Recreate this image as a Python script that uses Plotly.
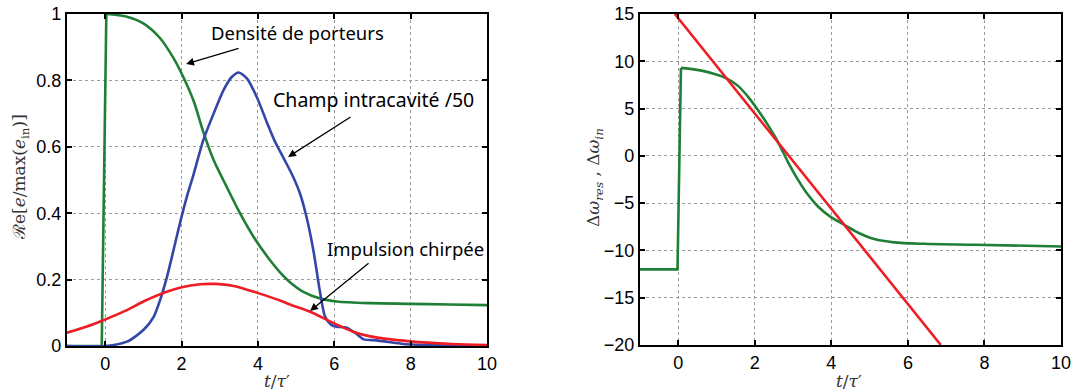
import plotly.graph_objects as go

# ---------------- Left panel data ----------------
# carrier density: step part and smooth decay
x_dens_step = [-1, -0.09, 0.03]
y_dens_step = [0, 0, 1.0]
x_dens = [0.03, 0.3, 0.57, 1.0, 1.44, 1.79, 1.98, 2.31, 2.57, 2.84, 3.18, 3.53, 3.88, 4.23, 4.58, 4.84, 5.19, 5.63, 6.07, 6.94, 7.98, 9.0, 10.0]
y_dens = [1.0, 0.997, 0.992, 0.972, 0.927, 0.867, 0.826, 0.74, 0.645, 0.56, 0.48, 0.40, 0.33, 0.272, 0.222, 0.192, 0.163, 0.143, 0.134, 0.129, 0.127, 0.125, 0.123]

# intracavity field /50
x_champ = [-1, 0.0, 0.57, 1.0, 1.27, 1.44, 1.62, 1.79, 1.98, 2.14, 2.31, 2.57, 2.84, 3.1, 3.32, 3.5, 3.71, 3.97,
           4.23, 4.45, 4.7, 4.9, 5.1, 5.27, 5.45, 5.63, 5.76, 5.93, 6.07, 6.33, 6.6, 6.77, 7.11, 7.37, 7.81, 8.68, 10.0]
y_champ = [0, 0, 0.013, 0.048, 0.088, 0.139, 0.209, 0.289, 0.38, 0.45, 0.515, 0.62, 0.70, 0.771, 0.811, 0.824, 0.806, 0.75,
           0.675, 0.615, 0.56, 0.515, 0.46, 0.39, 0.29, 0.16, 0.088, 0.063, 0.058, 0.055, 0.035, 0.02, 0.017, 0.013, 0.006, 0.002, 0.0]

# chirped pulse
x_imp = [-1, -0.5, 0.0, 0.57, 1.0, 1.44, 1.98, 2.49, 2.84, 3.36, 3.88, 4.23, 4.58, 4.84, 5.37, 6.0, 6.5, 6.94, 7.98, 9.1, 10.0]
y_imp = [0.04, 0.058, 0.08, 0.108, 0.134, 0.156, 0.176, 0.186, 0.187, 0.181, 0.164, 0.151, 0.137, 0.125, 0.103, 0.068, 0.043, 0.029, 0.014, 0.006, 0.003]

# ---------------- Right panel data ----------------
x_res_step = [-1, -0.02, 0.07]
y_res_step = [-12, -12, 9.3]
x_res = [0.07, 0.61, 0.95, 1.26, 1.56, 1.82, 2.08, 2.34, 2.6, 2.86, 3.13, 3.39, 3.65, 3.99, 4.34, 4.69, 5.12, 5.64, 6.42, 7.73, 10.0]
y_res = [9.3, 9.01, 8.66, 8.2, 7.4, 6.27, 4.86, 3.27, 1.51, -0.6, -2.54, -4.12, -5.35, -6.48, -7.29, -8.1, -8.8, -9.15, -9.3, -9.4, -9.58]

x_in = [-0.09, 6.86]
y_in = [15, -20]

left_yticks = [0, 0.2, 0.4, 0.6, 0.8, 1]
left_yticklabels = ["0", "0.2", "0.4", "0.6", "0.8", "1"]
xticks = [0, 2, 4, 6, 8, 10]
right_yticks = [-20, -15, -10, -5, 0, 5, 10, 15]
right_yticklabels = ["\u221220", "\u221215", "\u221210", "\u22125", "0", "5", "10", "15"]

GREEN = "#1f7f36"
BLUE = "#3447a8"
RED = "#ee1d25"
LW = 2.6

fig = go.Figure()
fig.add_trace(go.Scatter(x=x_dens_step, y=y_dens_step, mode="lines", line=dict(color=GREEN, width=LW), xaxis="x", yaxis="y"))
fig.add_trace(go.Scatter(x=x_dens, y=y_dens, mode="lines", line=dict(color=GREEN, width=LW, shape="spline", smoothing=0.8), xaxis="x", yaxis="y"))
fig.add_trace(go.Scatter(x=x_champ, y=y_champ, mode="lines", line=dict(color=BLUE, width=LW, shape="spline", smoothing=0.7), xaxis="x", yaxis="y"))
fig.add_trace(go.Scatter(x=x_imp, y=y_imp, mode="lines", line=dict(color=RED, width=LW, shape="spline", smoothing=0.8), xaxis="x", yaxis="y"))
fig.add_trace(go.Scatter(x=x_res_step, y=y_res_step, mode="lines", line=dict(color=GREEN, width=LW), xaxis="x2", yaxis="y2"))
fig.add_trace(go.Scatter(x=x_res, y=y_res, mode="lines", line=dict(color=GREEN, width=LW, shape="spline", smoothing=0.8), xaxis="x2", yaxis="y2"))
fig.add_trace(go.Scatter(x=x_in, y=y_in, mode="lines", line=dict(color=RED, width=LW), xaxis="x2", yaxis="y2"))

tickfont = dict(family="Liberation Sans, Arial, sans-serif", size=18, color="black")
axcommon = dict(showline=True, linecolor="black", linewidth=2.2, mirror="ticks", ticks="inside", ticklen=5,
                tickwidth=1.5, tickcolor="black", showgrid=True, gridcolor="#9a9a9a", griddash="dot",
                gridwidth=1, zeroline=False, tickfont=tickfont, automargin=False, ticklabeloverflow="allow")

fig.update_layout(
    width=1071, height=392, margin=dict(l=0, r=0, t=0, b=0, autoexpand=False),
    paper_bgcolor="white", plot_bgcolor="white", showlegend=False,
    xaxis=dict(domain=[67/1071, 487/1071], range=[-1, 10], tickvals=xticks, anchor="y", **axcommon),
    yaxis=dict(domain=[1-346/392, 1-14/392], range=[0, 1], tickvals=left_yticks, ticktext=left_yticklabels, anchor="x", **axcommon),
    xaxis2=dict(domain=[640/1071, 1061/1071], range=[-1, 10], tickvals=xticks, anchor="y2", **axcommon),
    yaxis2=dict(domain=[1-345/392, 1-14/392], range=[-20, 15], tickvals=right_yticks, ticktext=right_yticklabels, anchor="x2", **axcommon),
)

lblfont = dict(family="DejaVu Serif, Liberation Serif, serif", size=17, color="#333333")

def annfont(size):
    return dict(family="Noto Sans, sans-serif", size=size, color="black")

C = dict(xanchor="center", yanchor="middle", showarrow=False)
anns = [
    # axis labels
    dict(text="<i>t</i>/<i>\u03c4</i>\u2032", x=277/1071, y=1-381/392, xref="paper", yref="paper", font=lblfont, **C),
    dict(text="<i>t</i>/<i>\u03c4</i>\u2032", x=849/1071, y=1-381/392, xref="paper", yref="paper", font=lblfont, **C),
    dict(text="\u211be[<i>e</i>/max(<i>e</i><sub>in</sub>)]", x=21/1071, y=1-177/392, xref="paper", yref="paper",
         textangle=-90, font=lblfont, **C),
    dict(text="\u0394<i>\u03c9</i><sub><i>res</i></sub> , \u0394<i>\u03c9</i><sub><i>in</i></sub>", x=594/1071, y=1-178/392,
         xref="paper", yref="paper", textangle=-90, font=lblfont, **C),
    # text labels
    dict(text="Densit\u00e9 de porteurs", x=(297-105)/38.2, y=(346-33)/332, xref="x", yref="y", font=annfont(18.5), **C),
    dict(text="Champ intracavit\u00e9 /50", x=(373-105)/38.2, y=(346-99)/332, xref="x", yref="y", font=annfont(19.5), **C),
    dict(text="Impulsion chirp\u00e9e", x=(405-105)/38.2, y=(346-248)/332, xref="x", yref="y", font=annfont(18.5), **C),
    # arrows
    dict(text="", x=(186-105)/38.2, y=(346-64)/332, ax=(240-105)/38.2, ay=(346-48)/332, xref="x", yref="y", axref="x", ayref="y",
         showarrow=True, arrowhead=2, arrowsize=1.2, arrowwidth=1.3, arrowcolor="black"),
    dict(text="", x=(288-105)/38.2, y=(346-157)/332, ax=(352-105)/38.2, ay=(346-116)/332, xref="x", yref="y", axref="x", ayref="y",
         showarrow=True, arrowhead=2, arrowsize=1.2, arrowwidth=1.3, arrowcolor="black"),
    dict(text="", x=(310-105)/38.2, y=(346-311)/332, ax=(370-105)/38.2, ay=(346-262)/332, xref="x", yref="y", axref="x", ayref="y",
         showarrow=True, arrowhead=2, arrowsize=1.2, arrowwidth=1.3, arrowcolor="black"),
]
fig.update_layout(annotations=anns)

fig.write_html("out.html", config={"displayModeBar": False},
               post_script="document.body.style.margin='0px';document.body.style.overflow='hidden';")
